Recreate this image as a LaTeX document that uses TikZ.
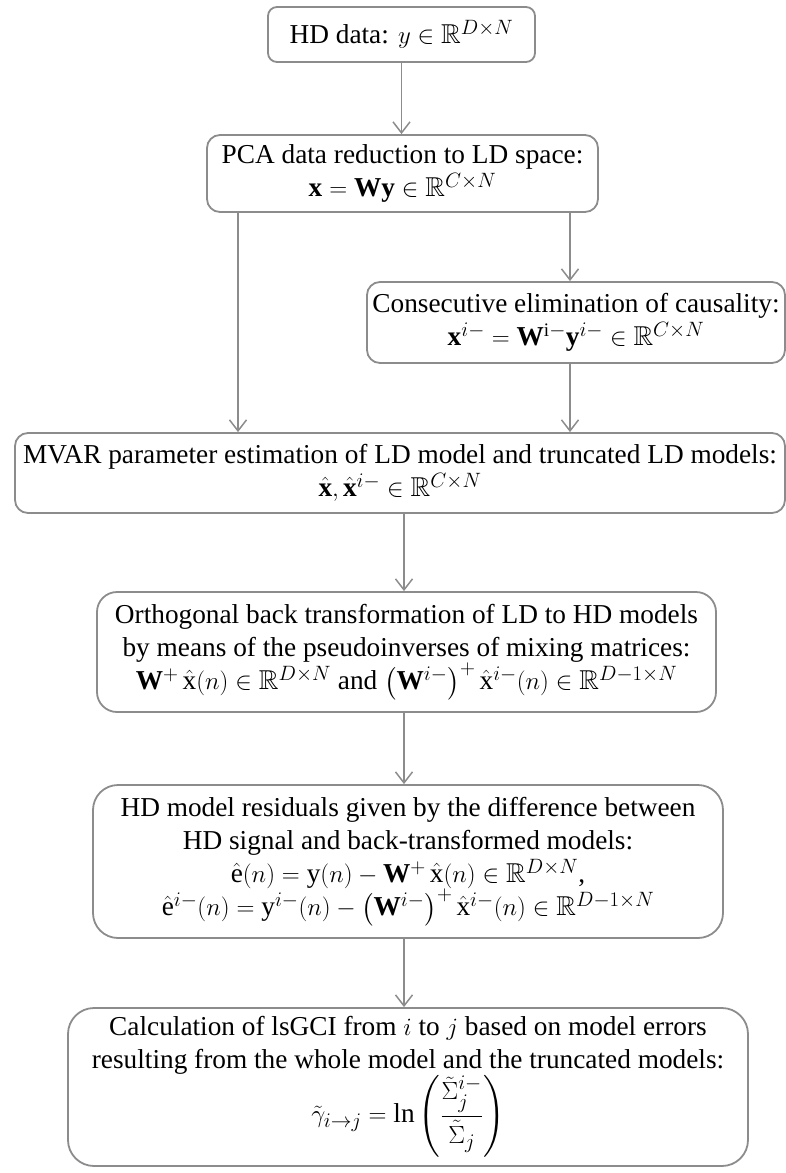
\documentclass[tikz,border=0pt]{standalone}
\usepackage{amsmath,amssymb}
\usepackage{fontspec}
\setmainfont{Liberation Serif}
\usetikzlibrary{arrows.meta}
\definecolor{linegray}{RGB}{140,140,140}
\begin{document}
\begin{tikzpicture}[x=1pt,y=-1pt,
  box/.style={draw=linegray, line width=1.8pt, rounded corners=#1, align=center,
    inner sep=0pt, font=\fontsize{27.3}{33}\selectfont},
  box/.default=12pt,
  arr/.style={draw=linegray, line width=1.5pt, -{Straight Barb[length=11pt,width=17pt]}}]
\useasboundingbox (0,0) rectangle (786,1173);

\node[box=9pt, minimum width=267pt, minimum height=55pt] (hd) at (401.5,34.5)
  {HD data: $y\in\mathbb{R}^{D\times N}$};

\node[box=13pt, minimum width=391pt, minimum height=77pt] (pca) at (402.5,173.5)
  {PCA data reduction to LD space:\\ $\mathbf{x}=\mathbf{W}\mathbf{y}\in\mathbb{R}^{C\times N}$};

\node[box=13pt, minimum width=418pt, minimum height=81pt] (cons) at (576,322.5)
  {Consecutive elimination of causality:\\ $\mathbf{x}^{i-}=\mathbf{W}^{\mathrm{i}-}\mathbf{y}^{i-}\in\mathbb{R}^{C\times N}$};

\node[box=13pt, minimum width=770pt, minimum height=80pt] (mvar) at (400,473)
  {MVAR parameter estimation of LD model and truncated LD models:\\ $\hat{\mathbf{x}},\hat{\mathbf{x}}^{i-}\in\mathbb{R}^{C\times N}$};

\node[box=20pt, minimum width=619pt, minimum height=120pt] (orth) at (406.5,652)
  {Orthogonal back transformation of LD to HD models\\
   by means of the pseudoinverses of mixing matrices:\\
   $\mathbf{W}^{+}\,\hat{\mathrm{x}}(n)\in\mathbb{R}^{D\times N}$ and
   $\left(\mathbf{W}^{i-}\right)^{+}\hat{\mathrm{x}}^{i-}(n)\in\mathbb{R}^{D-1\times N}$};

\node[box=25pt, minimum width=630pt, minimum height=153pt] (hdr) at (408,861.5)
  {HD model residuals given by the difference between\\
   HD signal and back-transformed models:\\
   $\hat{\mathrm{e}}(n)=\mathrm{y}(n)-\mathbf{W}^{+}\,\hat{\mathrm{x}}(n)\in\mathbb{R}^{D\times N}$,\\
   $\hat{\mathrm{e}}^{i-}(n)=\mathrm{y}^{i-}(n)-\left(\mathbf{W}^{i-}\right)^{+}\hat{\mathrm{x}}^{i-}(n)\in\mathbb{R}^{D-1\times N}$};

\node[box=26pt, minimum width=680pt, minimum height=158pt] (calc) at (408,1087)
  {Calculation of lsGCI from $i$ to $j$ based on model errors\\
   resulting from the whole model and the truncated models:\\
   $\tilde{\gamma}_{i\to j}=\ln\left(\dfrac{\tilde{\Sigma}_j^{i-}}{\tilde{\Sigma}_j}\right)$};

\coordinate (xl) at (238,0);
\coordinate (xr) at (570,0);
\coordinate (xc) at (404,0);

\draw[arr] (hd.south) -- (hd.south |- pca.north);
\draw[arr] (pca.south -| xl) -- (mvar.north -| xl);
\draw[arr] (pca.south -| xr) -- (cons.north -| xr);
\draw[arr] (cons.south -| xr) -- (mvar.north -| xr);
\draw[arr] (mvar.south -| xc) -- (orth.north -| xc);
\draw[arr] (orth.south -| xc) -- (hdr.north -| xc);
\draw[arr] (hdr.south -| xc) -- (calc.north -| xc);
\end{tikzpicture}
\end{document}
